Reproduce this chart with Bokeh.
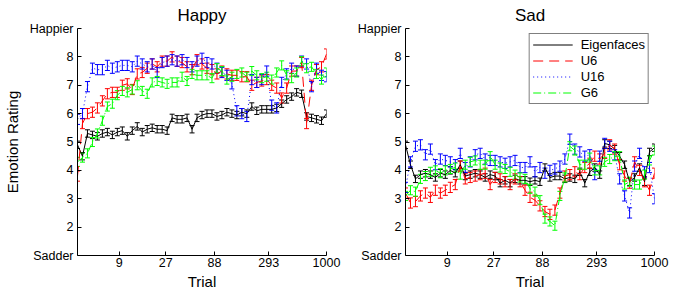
from bokeh.plotting import figure
from bokeh.models import ColumnDataSource, Whisker, TeeHead, FixedTicker, Range1d, Legend, LegendItem
from bokeh.layouts import row
from bokeh.embed import file_html
from bokeh.resources import INLINE

FONT = "Liberation Sans"

# x positions: trial bin index (0..50), log-spaced trials
trial_bins = list(range(51))
trial_tick_pos = [8.4, 17.7, 27.5, 38.4, 50]
trial_tick_labels = ["9", "27", "88", "293", "1000"]
rating_ticks = [1, 2, 3, 4, 5, 6, 7, 8, 9]
rating_labels = ["Sadder", "2", "3", "4", "5", "6", "7", "8", "Happier"]

series_names = ["Eigenfaces", "U6", "U16", "G6"]
series_colors = ["#000000", "#ff0000", "#0000ff", "#00ff00"]
series_dash = ["solid", "10 6", "1 3", "8 3 1 3"]
series_err = [0.13, 0.18, 0.18, 0.16]

happy_eigen = [4.9, 4.5, 5.3, 5.25, 5.2, 5.3, 5.35, 5.25, 5.35, 5.4, 5.2, 5.4, 5.55, 5.35, 5.45, 5.5, 5.45,
               5.45, 5.4, 5.85, 5.8, 5.8, 5.85, 5.45, 5.85, 5.95, 6.0, 6.0, 5.9, 5.95, 6.05, 6.0, 5.95, 6.05,
               6.0, 6.25, 6.1, 6.15, 6.15, 6.15, 6.2, 6.35, 6.5, 6.6, 6.75, 6.7, 5.9, 5.85, 5.8, 5.75, 6.0]
happy_u6 = [3.8, 5.65, 6.0, 6.05, 6.2, 6.45, 6.7, 6.75, 6.75, 7.0, 7.05, 6.85, 7.4, 7.45, 7.6, 7.75, 7.65,
            7.85, 7.85, 8.0, 7.85, 7.8, 7.65, 7.55, 7.9, 7.75, 7.6, 7.55, 7.4, 7.5, 7.4, 7.35, 7.35, 7.3,
            7.3, 7.0, 7.1, 7.15, 7.2, 7.0, 6.9, 6.55, 6.9, 7.5, 7.5, 7.8, 5.65, 7.0, 7.55, 7.65, 8.1]
happy_u16 = [5.8, 6.0, 6.95, 7.6, 7.55, 7.55, 7.7, 7.6, 7.65, 7.7, 7.7, 7.65, 7.85, 7.75, 7.65, 7.75, 7.45,
             7.8, 7.85, 7.9, 7.85, 7.9, 7.8, 7.65, 7.85, 7.95, 7.8, 7.75, 7.6, 7.45, 7.35, 7.05, 6.1, 6.0,
             5.9, 7.2, 7.1, 7.2, 7.5, 6.3, 6.2, 7.1, 7.4, 7.6, 7.5, 7.85, 7.75, 6.95, 7.6, 7.35, 7.3]
happy_g6 = [4.3, 4.45, 4.6, 5.0, 5.3, 5.75, 6.25, 6.35, 6.65, 6.8, 6.75, 6.85, 7.0, 6.8, 6.7, 7.1, 7.15,
            7.1, 7.05, 7.1, 7.1, 7.3, 7.15, 7.4, 7.35, 7.35, 7.35, 7.25, 7.6, 7.5, 7.2, 7.3, 7.4, 7.45,
            7.3, 7.5, 7.35, 7.25, 7.3, 7.2, 7.45, 7.7, 7.35, 7.25, 7.45, 7.85, 7.6, 7.65, 7.4, 7.2, 7.45]

sad_eigen = [4.9, 4.2, 3.7, 3.85, 3.9, 3.85, 3.75, 3.9, 3.85, 4.0, 3.9, 4.2, 3.8, 3.85, 3.9, 3.85, 3.75,
             3.85, 3.8, 3.55, 3.65, 3.55, 3.7, 3.65, 3.65, 3.6, 3.65, 3.6, 4.1, 3.75, 3.8, 3.8, 3.7, 3.75,
             3.7, 3.95, 3.55, 3.95, 4.1, 3.85, 4.95, 4.9, 4.75, 4.5, 4.2, 3.6, 3.75, 4.1, 3.6, 4.65, 4.8]
sad_u6 = [3.2, 2.85, 2.9, 3.1, 3.2, 3.05, 3.3, 3.2, 3.3, 3.4, 3.5, 4.15, 3.7, 3.75, 3.8, 3.85, 3.9,
          3.5, 3.75, 3.7, 3.6, 3.5, 3.7, 3.6, 3.3, 3.05, 2.95, 2.75, 2.55, 2.45, 2.6, 3.2, 3.8, 3.85,
          3.95, 3.85, 4.1, 4.25, 4.5, 4.4, 4.6, 4.9, 4.75, 4.2, 3.8, 3.55, 4.3, 4.0, 3.6, 3.3, 3.9]
sad_u16 = [3.4, 4.3, 4.85, 4.9, 4.55, 4.75, 4.2, 4.4, 4.35, 4.3, 4.2, 4.6, 4.1, 4.3, 4.55, 4.6, 4.4,
           4.35, 4.35, 4.3, 4.25, 4.3, 4.35, 4.1, 4.1, 4.3, 3.95, 4.1, 3.9, 4.0, 4.05, 4.15, 4.4, 5.1,
           4.75, 4.65, 4.5, 4.55, 3.85, 4.5, 4.95, 4.85, 4.55, 3.7, 3.1, 2.5, 4.15, 4.6, 3.95, 4.1, 3.0]
sad_g6 = [3.1, 3.3, 3.25, 3.7, 3.8, 3.95, 4.0, 3.9, 4.0, 4.05, 4.1, 3.85, 4.2, 4.3, 4.35, 4.2, 4.2,
          4.5, 4.2, 4.1, 4.05, 3.95, 3.85, 3.75, 3.7, 3.35, 3.25, 2.95, 2.3, 2.2, 2.05, 3.1, 3.75, 4.85,
          4.7, 4.2, 4.2, 4.45, 4.0, 4.0, 4.3, 4.4, 4.5, 4.5, 3.5, 3.6, 3.5, 3.5, 3.85, 4.35, 4.7]


def make_panel(title, data, border_left, ylabel, with_legend):
    p = figure(frame_width=249, frame_height=227, output_backend="svg", toolbar_location=None,
               x_range=Range1d(0, 50), y_range=Range1d(1, 9),
               min_border_left=border_left, min_border_right=16, min_border_top=27, min_border_bottom=10)
    p.outline_line_color = None
    p.grid.visible = False
    p.background_fill_color = "white"
    p.border_fill_color = "white"

    p.title.text = title
    p.title.align = "center"
    p.title.text_font = FONT
    p.title.text_font_size = "17px"
    p.title.text_font_style = "normal"
    p.title.text_color = "black"
    p.title.standoff = 7

    renderers = []
    for name, ys, c, dash, err in zip(series_names, data, series_colors, series_dash, series_err):
        lo = [v - err for v in ys]
        hi = [v + err for v in ys]
        src = ColumnDataSource(dict(x=trial_bins, y=ys, lo=lo, hi=hi))
        r = p.line("x", "y", source=src, line_color=c, line_width=1, line_dash=dash)
        renderers.append((name, r))
        w = Whisker(base="x", lower="lo", upper="hi", source=src, line_color=c, line_width=1,
                    lower_head=TeeHead(size=5, line_color=c, line_width=1),
                    upper_head=TeeHead(size=5, line_color=c, line_width=1))
        p.add_layout(w)

    for ax in (p.xaxis[0], p.yaxis[0]):
        ax.axis_line_color = "black"
        ax.major_tick_line_color = "black"
        ax.major_tick_in = 4
        ax.major_tick_out = 0
        ax.minor_tick_line_color = None
        ax.major_label_text_font = FONT
        ax.major_label_text_font_size = "12.5px"
        ax.major_label_text_color = "black"
        ax.axis_label_text_font = FONT
        ax.axis_label_text_font_size = "15px"
        ax.axis_label_text_font_style = "normal"
        ax.axis_label_text_color = "black"

    p.xaxis.ticker = FixedTicker(ticks=trial_tick_pos)
    p.xaxis.major_label_overrides = {k: v for k, v in zip(trial_tick_pos, trial_tick_labels)}
    p.xaxis.axis_label = "Trial"
    p.xaxis.major_label_standoff = 2
    p.xaxis.axis_label_standoff = 3

    p.yaxis.ticker = FixedTicker(ticks=rating_ticks)
    p.yaxis.major_label_overrides = {k: v for k, v in zip(rating_ticks, rating_labels)}
    p.yaxis.major_label_standoff = 4
    if ylabel:
        p.yaxis.axis_label = ylabel
        p.yaxis.axis_label_standoff = 6

    if with_legend:
        items = [LegendItem(label=n, renderers=[r]) for n, r in renderers]
        leg = Legend(items=items, location="top_right")
        leg.border_line_color = "black"
        leg.border_line_width = 1
        leg.background_fill_color = "white"
        leg.background_fill_alpha = 1
        leg.label_text_font = FONT
        leg.label_text_font_size = "13px"
        leg.label_text_color = "black"
        leg.padding = 3
        leg.spacing = 1
        leg.margin = 5
        leg.label_height = 15
        leg.glyph_height = 15
        leg.glyph_width = 40
        leg.label_standoff = 8
        p.add_layout(leg)
    return p


p1 = make_panel("Happy", [happy_eigen, happy_u6, happy_u16, happy_g6], 77, "Emotion Rating", False)
p2 = make_panel("Sad", [sad_eigen, sad_u6, sad_u16, sad_g6], 63, None, True)

layout = row(p1, p2)
open("out.html", "w").write(file_html(layout, INLINE))
